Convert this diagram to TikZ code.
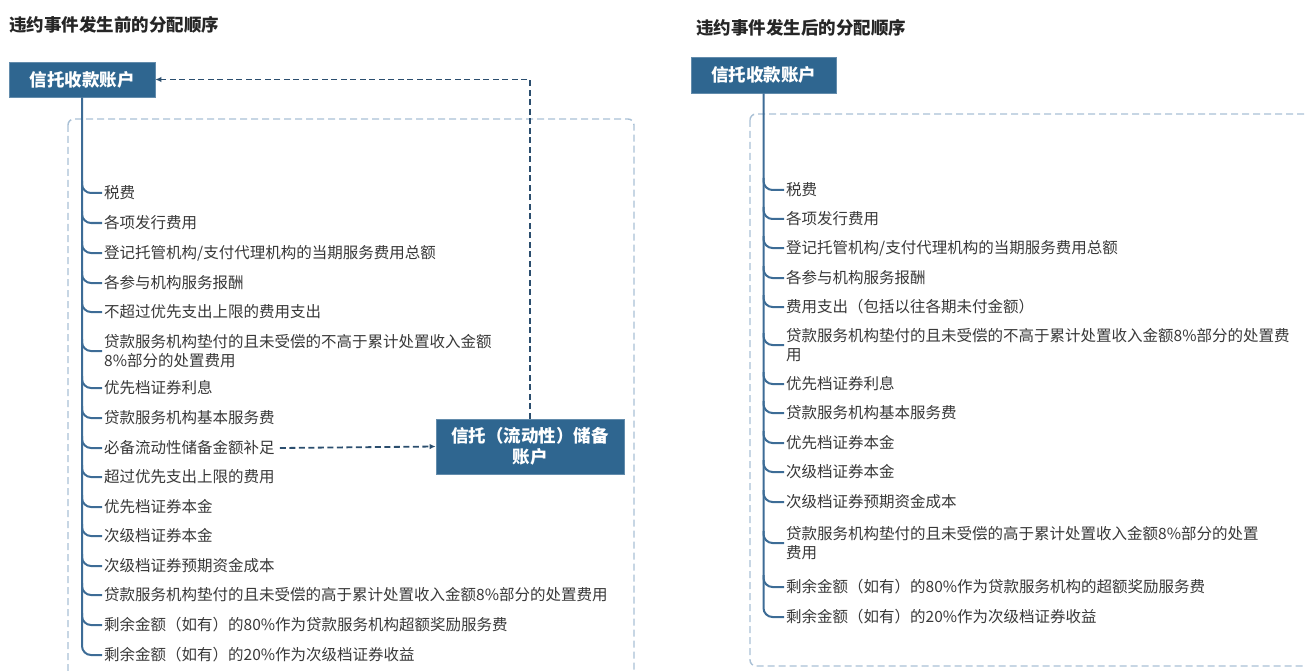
\documentclass[tikz,border=0pt]{standalone}
\usepackage{fontspec}
\setmainfont{Noto Sans CJK SC}
\usepackage{xcolor}
\usepackage{tikz}
\usetikzlibrary{arrows.meta, positioning}

\definecolor{boxblue}{HTML}{2F6690}
\definecolor{trunkblue}{HTML}{3D6C96}
\definecolor{framegray}{HTML}{A9C0D5}
\definecolor{flowblue}{HTML}{2B4E6E}
\definecolor{itemgray}{HTML}{383838}

\begin{document}
\begin{tikzpicture}[x=1pt, y=-1pt,
    heading/.style={anchor=west, inner sep=0pt, text=black!85, font=\fontsize{17.5}{20}\selectfont\bfseries},
    account/.style={fill=boxblue, draw=boxblue!75!white, line width=0.8pt, text=white, align=center,
      font=\fontsize{17.5}{21}\selectfont\bfseries},
    item/.style={anchor=west, inner sep=2pt, align=left, text=itemgray, font=\fontsize{15.5}{18.5}\selectfont},
    frame/.style={draw=framegray, line width=1.4pt, dash pattern=on 7pt off 4pt, rounded corners=6pt},
    trunk/.style={draw=trunkblue, line width=2pt, rounded corners=9pt},
    flow/.style={draw=flowblue, line width=1.8pt, dash pattern=on 6pt off 3.5pt, -{Latex[length=6pt,width=5.5pt]}}]
  \useasboundingbox (0,0) rectangle (1306,671);
  \clip (0,0) rectangle (1306,671);

  % before default
  \node[heading] (ltitle) at (9,25) {违约事件发生前的分配顺序};
  \draw[frame] (68,119) rectangle (634,700);
  \node[account, minimum width=146pt, minimum height=35pt] (lacc) at (82,79.5) {信托收款账户};
  \foreach \i/\y/\txt in {1/193/税费, 2/223/各项发行费用,
      3/253/{登记托管机构/支付代理机构的当期服务费用总额}, 4/283/各参与机构服务报酬,
      5/312/不超过优先支出上限的费用支出,
      6/351/{贷款服务机构垫付的且未受偿的不高于累计处置收入金额\\8\%部分的处置费用},
      7/388/优先档证券利息, 8/418/贷款服务机构基本服务费, 9/448/必备流动性储备金额补足,
      10/477/超过优先支出上限的费用, 11/507/优先档证券本金, 12/536/次级档证券本金,
      13/566/次级档证券预期资金成本,
      14/595/贷款服务机构垫付的且未受偿的高于累计处置收入金额8\%部分的处置费用,
      15/625/剩余金额（如有）的80\%作为贷款服务机构超额奖励服务费,
      16/655/剩余金额（如有）的20\%作为次级档证券收益}
    \node[item] (l\i) at (102,\y) {\txt};
  \draw[trunk] (lacc.south) |- (l16.west);
  \foreach \i in {1,...,15}
    \draw[trunk] (lacc.south |- l\i.west) ++(0,-12) |- (l\i.west);
  \node[account, minimum width=188pt, minimum height=55pt] (res) at (530,446.5) {信托（流动性）储备\\账户};
  \draw[flow] ([xshift=3pt]l9.east) -- (res.west);
  \draw[flow] (res.north) |- (lacc.east);

  % after default
  \node[heading] (rtitle) at (696,28) {违约事件发生后的分配顺序};
  \draw[frame] (750,114) rectangle (1340,666);
  \node[account, minimum width=145pt, minimum height=36pt] (racc) at (763.5,75) {信托收款账户};
  \foreach \i/\y/\txt in {1/190/税费, 2/219/各项发行费用,
      3/248/{登记托管机构/支付代理机构的当期服务费用总额}, 4/278/各参与机构服务报酬,
      5/307/费用支出（包括以往各期未付金额）,
      6/345/{贷款服务机构垫付的且未受偿的不高于累计处置收入金额8\%部分的处置费\\用},
      7/384/优先档证券利息, 8/413/贷款服务机构基本服务费, 9/443/优先档证券本金,
      10/472/次级档证券本金, 11/502/次级档证券预期资金成本,
      12/543/{贷款服务机构垫付的且未受偿的高于累计处置收入金额8\%部分的处置\\费用},
      13/587/剩余金额（如有）的80\%作为贷款服务机构的超额奖励服务费,
      14/617/剩余金额（如有）的20\%作为次级档证券收益}
    \node[item] (r\i) at (784,\y) {\txt};
  \draw[trunk] (racc.south) |- (r14.west);
  \foreach \i in {1,...,13}
    \draw[trunk] (racc.south |- r\i.west) ++(0,-12) |- (r\i.west);
\end{tikzpicture}
\end{document}
